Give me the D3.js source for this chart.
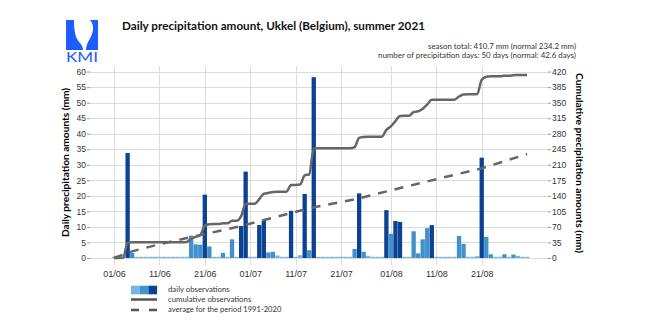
<!DOCTYPE html>
<html>
<head>
<meta charset="utf-8">
<script src="https://cdn.jsdelivr.net/npm/d3@7"></script>
<style>
body { margin: 0; background: #fff; }
text { font-family: Lato, "Liberation Sans", sans-serif; }
.tick text { font-family: "Liberation Sans", Arial, sans-serif; font-size: 8.5px; fill: #333; }
</style>
</head>
<body>
<div id="chart"></div>
<script>
// daily precipitation in mm, 1 June .. 31 August 2021 (one value per day)
var daily = [
  0, 0, 0.3, 33.8, 1.6, 0, 0, 0, 0, 0,          // 01/06 - 10/06
  0, 0, 0, 0, 0, 0, 0.4, 7.2, 4.4, 4.3,         // 11/06 - 20/06
  20.4, 3.7, 0.4, 0, 1.6, 0, 6.0, 0, 10.3, 27.8, // 21/06 - 30/06
  0, 0, 10.6, 12.0, 1.8, 2.0, 0.8, 0, 0, 15.2,  // 01/07 - 10/07
  0, 0.9, 20.6, 2.5, 58.2, 0.2, 0, 0, 0, 0,     // 11/07 - 20/07
  0, 0, 0, 2.9, 20.8, 2.0, 0.7, 0, 0, 0,        // 21/07 - 30/07
  15.4, 7.8, 11.9, 11.6, 0.3, 0, 8.6, 1.5, 6.0, 9.6, // 31/07 - 09/08
  10.6, 0, 0, 0, 0, 0, 7.1, 4.5, 0.4, 0,        // 10/08 - 19/08
  0.6, 32.3, 6.8, 1.2, 0, 0, 1.2, 0, 1.1, 0.7,  // 20/08 - 29/08
  0, 0                                          // 30/08 - 31/08
];

// 1991-2020 average cumulative amount (mm), read at a few days after 1 June
var normalDays = [0, 4, 10, 17, 28, 43, 53, 62, 72, 81, 91];
var normalCum = [0, 15, 31, 47, 72, 112, 132, 155, 180, 202, 234.2];

var leftTicks = [0, 5, 10, 15, 20, 25, 30, 35, 40, 45, 50, 55, 60];
var rightTicks = [0, 35, 70, 105, 140, 175, 210, 245, 280, 315, 350, 385, 420];
var dateTicks = ["01/06", "11/06", "21/06", "01/07", "11/07", "21/07", "01/08", "11/08", "21/08"];

var legendLabels = ["daily observations", "cumulative observations", "average for the period 1991-2020"];
var colors = { light: "#76b5e3", medium: "#4191cc", dark: "#0b4292" };

var width = 650, height = 331;
var plot = { left: 90, right: 548, top: 66, bottom: 258 };
var DAY = 864e5;
var start = Date.UTC(2021, 5, 1);

var svg = d3.select("#chart")
  .append("svg")
    .attr("width", width)
    .attr("height", height);

svg.append("rect").attr("width", width).attr("height", height).attr("fill", "#fff");

var dates = daily.map(function(v, i) { return new Date(start + i * DAY); });
var parseTick = d3.utcParse("%d/%m/%Y");
var tickDates = dateTicks.map(function(t) { return parseTick(t + "/2021"); });

var x = d3.scaleUtc()
  .domain([new Date(start - 5.29 * DAY), new Date(start + 95.6 * DAY)])
  .range([plot.left, plot.right]);

var y = d3.scaleLinear()
  .domain([0, 61.8])
  .range([plot.bottom, plot.top]);

var y2 = d3.scaleLinear()
  .domain([0, 61.8 * 7])
  .range([plot.bottom, plot.top]);

// horizontal gridlines
svg.append("g")
  .attr("class", "grid")
  .attr("transform", "translate(" + plot.left + ",0)")
  .call(d3.axisLeft(y).tickValues(leftTicks).tickSize(-(plot.right - plot.left)).tickFormat(""));

// vertical gridlines (they run a little below the zero line)
svg.append("g")
  .attr("class", "grid")
  .attr("transform", "translate(0," + (plot.bottom + 7) + ")")
  .call(d3.axisBottom(x)
    .tickValues(tickDates)
    .tickSize(-(plot.bottom + 7 - plot.top))
    .tickFormat(""));

svg.selectAll(".grid line")
  .style("stroke", "#dcdcdc")
  .style("stroke-width", 1)
  .style("shape-rendering", "crispEdges");
svg.selectAll(".grid .domain").remove();

// daily bars
var barW = (x(new Date(start + DAY)) - x(new Date(start))) * 0.95;
svg.append("g")
  .selectAll("rect")
  .data(daily)
  .enter().append("rect")
    .attr("x", function(d, i) { return x(dates[i]) - barW / 2; })
    .attr("width", barW)
    .attr("y", function(d) { return Math.min(y(d), plot.bottom - 1.2); })
    .attr("height", function(d) { return Math.max(plot.bottom - y(d), 1.2); })
    .attr("fill", function(d) {
      return d >= 10 ? colors.dark : (d >= 1 ? colors.medium : colors.light);
    });

// normal (dashed)
svg.append("path")
  .datum(normalDays)
  .attr("fill", "none")
  .attr("stroke", "#666")
  .attr("stroke-width", 2.5)
  .attr("stroke-dasharray", "9,8")
  .attr("d", d3.line()
    .x(function(d) { return x(new Date(start + d * DAY)); })
    .y(function(d, i) { return y2(normalCum[i]); }));

// cumulative observations
var cum = Array.from(d3.cumsum(daily));
svg.append("path")
  .datum(cum)
  .attr("fill", "none")
  .attr("stroke", "#666")
  .attr("stroke-width", 2.5)
  .attr("stroke-linejoin", "round")
  .attr("d", d3.line()
    .curve(d3.curveMonotoneX)
    .x(function(d, i) { return x(dates[i]); })
    .y(function(d) { return y2(d); }));

// axes
var gl = svg.append("g")
  .attr("transform", "translate(" + plot.left + ",0)")
  .call(d3.axisLeft(y).tickValues(leftTicks).tickSize(3).tickPadding(1));
var gr = svg.append("g")
  .attr("transform", "translate(" + plot.right + ",0)")
  .call(d3.axisRight(y2).tickValues(rightTicks).tickSize(3).tickPadding(1));
var gb = svg.append("g")
  .attr("transform", "translate(0," + plot.bottom + ")")
  .call(d3.axisBottom(x)
    .tickValues(tickDates)
    .tickSize(0).tickPadding(12.6)
    .tickFormat(d3.utcFormat("%d/%m")));
gb.selectAll(".tick text").style("font-size", "9px");
[gl, gr, gb].forEach(function(g) {
  g.select(".domain").remove();
  g.selectAll(".tick line").attr("stroke", "#999");
});

// axis titles
svg.append("text")
  .attr("transform", "translate(65,162.5) rotate(-90)")
  .attr("text-anchor", "middle")
  .attr("dominant-baseline", "central")
  .style("font-size", "10px")
  .style("font-weight", "bold")
  .attr("textLength", 149)
  .attr("lengthAdjust", "spacingAndGlyphs")
  .text("Daily precipitation amounts (mm)");

svg.append("text")
  .attr("transform", "translate(580,163) rotate(90)")
  .attr("text-anchor", "middle")
  .attr("dominant-baseline", "central")
  .style("font-size", "10px")
  .style("font-weight", "bold")
  .attr("textLength", 180)
  .attr("lengthAdjust", "spacingAndGlyphs")
  .text("Cumulative precipitation amounts (mm)");

// title and summary
svg.append("text")
  .attr("x", 122).attr("y", 30)
  .style("font-size", "11.5px")
  .style("font-weight", "bold")
  .attr("fill", "#111")
  .attr("textLength", 303)
  .attr("lengthAdjust", "spacingAndGlyphs")
  .text("Daily precipitation amount, Ukkel (Belgium), summer 2021");

svg.append("text")
  .attr("x", 428).attr("y", 49)
  .style("font-size", "7.5px")
  .attr("fill", "#333")
  .attr("textLength", 148)
  .attr("lengthAdjust", "spacingAndGlyphs")
  .text("season total: 410.7 mm (normal 234.2 mm)");

svg.append("text")
  .attr("x", 378).attr("y", 58)
  .style("font-size", "7.5px")
  .attr("fill", "#333")
  .attr("textLength", 198)
  .attr("lengthAdjust", "spacingAndGlyphs")
  .text("number of precipitation days: 50 days (normal: 42.6 days)");

// KMI logo
var logo = svg.append("g").attr("transform", "translate(66,20)");
logo.append("path")
  .attr("d", "M0,0 H8 C8,10 9,18 14,23 C16,25 17,28 17,30 H0 Z")
  .attr("fill", "#1f5cff");
logo.append("path")
  .attr("d", "M24,0 H32 V30 H20 C20,22 26,18 27,10 C27.5,5 26,2 24,0 Z")
  .attr("fill", "#1f5cff");
logo.append("text")
  .attr("x", 0).attr("y", 42)
  .style("font-size", "12.5px")
  .attr("fill", "#1f5cff")
  .attr("textLength", 32)
  .attr("lengthAdjust", "spacingAndGlyphs")
  .text("KMI");

// legend
var lg = svg.append("g");
[colors.light, colors.medium, colors.dark].forEach(function(c, i) {
  lg.append("rect")
    .attr("x", 131 + i * 8.7).attr("y", 285.7)
    .attr("width", 8.7).attr("height", 8.6)
    .attr("fill", c);
});
lg.append("line")
  .attr("x1", 131).attr("x2", 157).attr("y1", 299.5).attr("y2", 299.5)
  .attr("stroke", "#555").attr("stroke-width", 2.5);
lg.append("line")
  .attr("x1", 131).attr("x2", 157).attr("y1", 310).attr("y2", 310)
  .attr("stroke", "#555").attr("stroke-width", 2.5)
  .attr("stroke-dasharray", "8,10");
var legendW = [61.7, 83.3, 113.3];
legendLabels.forEach(function(t, i) {
  lg.append("text")
    .attr("x", 168).attr("y", [291.5, 301.5, 312][i])
    .style("font-size", "8px")
    .attr("fill", "#333")
    .attr("textLength", legendW[i])
    .attr("lengthAdjust", "spacingAndGlyphs")
    .text(t);
});
</script>
</body>
</html>
